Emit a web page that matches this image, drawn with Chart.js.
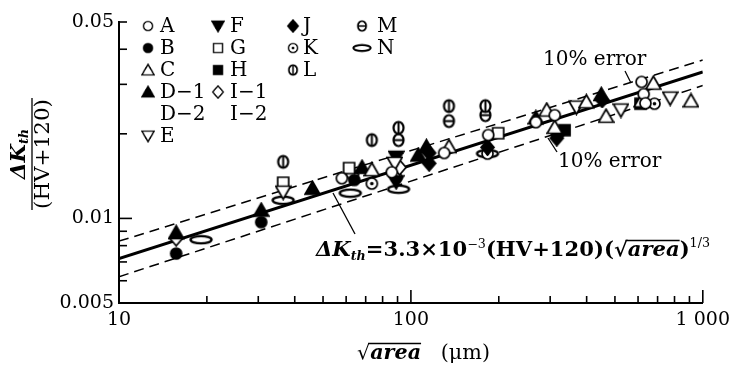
<!DOCTYPE html>
<html>
<head>
<meta charset="utf-8">
<script src="https://cdn.jsdelivr.net/npm/chart.js@4/dist/chart.umd.min.js"></script>
<style>
  html, body { margin: 0; padding: 0; background: #fff; }
</style>
</head>
<body>
<canvas id="chart" width="736" height="365"></canvas>
<script>
// values: [sqrt(area) in um, dKth/(HV+120)]
const ptsA = [[58, 0.0139], [86, 0.0146], [130, 0.0171], [184, 0.0198], [268, 0.0220], [311, 0.0233], [617, 0.0306], [627, 0.0277], [636, 0.0257]];
const ptsB = [[15.7, 0.0075], [30.7, 0.0097], [64, 0.0137]];
const ptsC = [[73.5, 0.0149], [135, 0.0180], [292, 0.0243], [311, 0.0211], [399, 0.0260], [466, 0.0231], [617, 0.0262], [677, 0.0303], [911, 0.0262]];
const ptsD1 = [[15.7, 0.0089], [30.7, 0.0107], [46, 0.0128], [68, 0.0152], [106, 0.0168], [113, 0.0180], [268, 0.0228], [449, 0.0276]];
const ptsD2 = [];
const ptsE = [[36.5, 0.0124], [88, 0.0157], [369, 0.0249], [524, 0.0243], [773, 0.0268]];
const ptsF = [[89, 0.0165], [89, 0.0135]];
const ptsG = [[36.5, 0.0134], [61.4, 0.0151], [199, 0.0201]];
const ptsH = [[336, 0.0206], [612, 0.0256]];
const ptsI1 = [[15.7, 0.0085], [62.9, 0.0143], [91.4, 0.0152]];
const ptsI2 = [];
const ptsJ = [[115.5, 0.0171], [115.5, 0.0157], [183, 0.0179], [318, 0.0198], [316, 0.0193], [452, 0.0264]];
const ptsK = [[73.5, 0.0133], [89, 0.0140], [183, 0.0170], [683, 0.0256]];
const ptsL = [[36.5, 0.0159], [73.5, 0.0190], [90.7, 0.0210], [135, 0.0251], [180, 0.0251]];
const ptsM = [[90.7, 0.0190], [135, 0.0222], [180, 0.0233]];
const ptsN = [[19.1, 0.0084], [36.5, 0.0116], [62, 0.0123], [90.7, 0.0127], [183, 0.0170]];

// fitted line and the two 10% error lines
const lineX = [10, 1000];
const fitY = [0.0072, 0.0332];
const upperY = [0.0083, 0.0366];
const lowerY = [0.0062, 0.0297];

// axis ticks
const xTicks = [10, 100, 1000];
const yTicks = [0.005, 0.01, 0.05];
const xMinor = [20, 30, 40, 50, 60, 70, 80, 90, 200, 300, 400, 500, 600, 700, 800, 900];
const yMinor = [0.006, 0.007, 0.008, 0.009, 0.02, 0.03, 0.04, 0.05];

const seriesNames = ['A', 'B', 'C', 'D−1', 'D−2', 'E', 'F', 'G', 'H', 'I−1', 'I−2', 'J', 'K', 'L', 'M', 'N'];
const seriesPts = [ptsA, ptsB, ptsC, ptsD1, ptsD2, ptsE, ptsF, ptsG, ptsH, ptsI1, ptsI2, ptsJ, ptsK, ptsL, ptsM, ptsN];
const seriesMark = ['circle', 'circleF', 'tri', 'triF', null, 'triDown', 'triDownF', 'square', 'squareF', 'diamond', null, 'diamondF', 'circleDot', 'circleV', 'circleH', 'ellipse'];
// legend slots: [column, row]
const legendSlot = [[0, 0], [0, 1], [0, 2], [0, 3], [0, 4], [0, 5], [1, 0], [1, 1], [1, 2], [1, 3], [1, 4], [2, 0], [2, 1], [2, 2], [3, 0], [3, 1]];

const FONT = "'DejaVu Serif'";

// small canvases used as point styles
function makeMarker(kind) {
  const c = document.createElement('canvas');
  const wide = kind === 'ellipse';
  c.width = wide ? 26 : 17;
  c.height = wide ? 11 : 17;
  const g = c.getContext('2d');
  const cx = c.width / 2, cy = c.height / 2;
  g.strokeStyle = '#000';
  g.lineWidth = 1.7;
  const filled = kind.endsWith('F');
  g.fillStyle = filled ? '#000' : '#fff';
  g.beginPath();
  switch (kind) {
    case 'circle': case 'circleF': case 'circleDot':
      g.arc(cx, cy, 5.5, 0, Math.PI * 2); break;
    case 'circleV': case 'circleH':
      g.lineWidth = 2.2;
      g.ellipse(cx, cy, 5, 6, 0, 0, Math.PI * 2); break;
    case 'tri': case 'triF':
      g.moveTo(cx, cy - 7); g.lineTo(cx + 7.5, cy + 6); g.lineTo(cx - 7.5, cy + 6); g.closePath(); break;
    case 'triDown': case 'triDownF':
      g.moveTo(cx, cy + 7); g.lineTo(cx + 7.5, cy - 6); g.lineTo(cx - 7.5, cy - 6); g.closePath(); break;
    case 'square': case 'squareF':
      g.rect(cx - 5.5, cy - 5.5, 11, 11); break;
    case 'diamond': case 'diamondF':
      g.moveTo(cx, cy - 7.5); g.lineTo(cx + 6.5, cy); g.lineTo(cx, cy + 7.5); g.lineTo(cx - 6.5, cy); g.closePath(); break;
    case 'ellipse':
      g.lineWidth = 2.4;
      g.ellipse(cx, cy, 10.5, 3.6, 0, 0, Math.PI * 2); break;
  }
  g.fill();
  g.stroke();
  if (kind === 'circleDot') {
    g.beginPath(); g.fillStyle = '#000'; g.arc(cx, cy, 1.8, 0, Math.PI * 2); g.fill();
  }
  if (kind === 'circleV') {
    g.beginPath(); g.lineWidth = 2; g.moveTo(cx, cy - 6); g.lineTo(cx, cy + 6); g.stroke();
  }
  if (kind === 'circleH') {
    g.beginPath(); g.lineWidth = 2; g.moveTo(cx - 5, cy); g.lineTo(cx + 5, cy); g.stroke();
  }
  return c;
}

const markerImg = {};
seriesMark.forEach(k => { if (k && !markerImg[k]) markerImg[k] = makeMarker(k); });

function toXY(xs, ys) { return xs.map((x, i) => ({ x: x, y: ys[i] })); }

const datasets = [];
seriesNames.forEach((name, i) => {
  if (!seriesPts[i].length) return;
  datasets.push({
    type: 'scatter',
    label: name,
    data: seriesPts[i].map(p => ({ x: p[0], y: p[1] })),
    pointStyle: markerImg[seriesMark[i]],
    pointRadius: 6,
    pointHoverRadius: 6,
    order: 0
  });
});
datasets.push({ type: 'line', label: 'fit', data: toXY(lineX, fitY), borderColor: '#000', borderWidth: 3, pointRadius: 0, order: 5 });
datasets.push({ type: 'line', label: 'upper', data: toXY(lineX, upperY), borderColor: '#000', borderWidth: 1.5, borderDash: [10, 6], pointRadius: 0, order: 5 });
datasets.push({ type: 'line', label: 'lower', data: toXY(lineX, lowerY), borderColor: '#000', borderWidth: 1.5, borderDash: [10, 6], pointRadius: 0, order: 5 });

// draw a row of text runs: [text, font, dy, overline]
function drawRuns(ctx, runs, x, y, targetW) {
  let w = 0;
  const widths = runs.map(r => { ctx.font = r[1]; const m = ctx.measureText(r[0]).width; w += m; return m; });
  const sx = targetW ? targetW / w : 1;
  ctx.save();
  ctx.translate(x, y);
  ctx.scale(sx, 1);
  let cx = 0;
  runs.forEach((r, i) => {
    ctx.font = r[1];
    ctx.fillText(r[0], cx, r[2] || 0);
    if (r[3]) {
      ctx.lineWidth = 1.3;
      ctx.beginPath();
      ctx.moveTo(cx - 2, -15.5);
      ctx.lineTo(cx + widths[i], -15.5);
      ctx.stroke();
    }
    cx += widths[i];
  });
  ctx.restore();
}

function line(ctx, x1, y1, x2, y2) {
  ctx.beginPath(); ctx.moveTo(x1, y1); ctx.lineTo(x2, y2); ctx.stroke();
}

const decorations = {
  id: 'decorations',
  afterDraw(chart) {
    const { ctx, chartArea: a, scales: { x, y } } = chart;
    ctx.save();
    ctx.strokeStyle = '#000';
    ctx.fillStyle = '#000';
    ctx.textBaseline = 'alphabetic';

    // inward tick marks
    ctx.lineWidth = 1.6;
    xMinor.forEach(v => { const p = x.getPixelForValue(v); line(ctx, p, a.bottom, p, a.bottom - 7); });
    [100, 1000].forEach(v => { const p = x.getPixelForValue(v); line(ctx, p, a.bottom, p, a.bottom - 13); });
    yMinor.forEach(v => { const p = y.getPixelForValue(v); line(ctx, a.left, p, a.left + 8, p); });
    const p01 = y.getPixelForValue(0.01);
    line(ctx, a.left, p01, a.left + 13, p01);

    // legend
    seriesNames.forEach((name, i) => {
      const slot = legendSlot[i];
      const mx = [148, 218, 293, 362][slot[0]];
      const tx = [160, 230, 303, 377][slot[0]];
      const ty = [26, 48, 70, 92, 114, 136][slot[1]];
      const img = markerImg[seriesMark[i]];
      if (img) {
        const s = 0.82;
        ctx.drawImage(img, mx - img.width * s / 2, ty - img.height * s / 2, img.width * s, img.height * s);
      }
      ctx.font = '20px ' + FONT;
      ctx.textBaseline = 'middle';
      ctx.fillText(name, tx, ty + 1);
    });
    ctx.textBaseline = 'alphabetic';

    // 10% error labels with leaders
    ctx.font = '20px ' + FONT;
    ctx.fillText('10% error', 543, 65);
    ctx.fillText('10% error', 558, 167);
    ctx.lineWidth = 1.3;
    line(ctx, 625, 71, 631, 83);
    line(ctx, 548, 138, 557, 152);

    // formula and its leader
    line(ctx, 333, 193, 355, 234);
    drawRuns(ctx, [
      ['Δ', 'italic bold 20px ' + FONT],
      ['K', 'italic bold 20px ' + FONT],
      ['th', 'italic bold 12px ' + FONT, 4],
      ['=3.3×10', 'bold 20px ' + FONT],
      ['−3', '12px ' + FONT, -8],
      ['(HV+120)(√', 'bold 20px ' + FONT],
      ['area', 'italic bold 20px ' + FONT, 0, true],
      [')', 'bold 20px ' + FONT],
      ['1/3', '12px ' + FONT, -9]
    ], 316, 256, 394);

    // x axis title
    drawRuns(ctx, [
      ['√', '20px ' + FONT],
      ['area', 'italic bold 20px ' + FONT, 0, true],
      ['   (μm)', '20px ' + FONT]
    ], 357, 359, 133);

    // y axis title, a rotated fraction
    ctx.translate(32, 154);
    ctx.rotate(-Math.PI / 2);
    ctx.textBaseline = 'middle';
    ctx.lineWidth = 1.3;
    line(ctx, -56, 0, 56, 0);
    drawRuns(ctx, [
      ['Δ', 'italic bold 20px ' + FONT],
      ['K', 'italic bold 20px ' + FONT],
      ['th', 'italic bold 12px ' + FONT, 5]
    ], -25, -12, 50);
    drawRuns(ctx, [['(HV+120)', '20px ' + FONT]], -55, 12, 110);
    ctx.restore();
  }
};

new Chart(document.getElementById('chart'), {
  type: 'scatter',
  data: { datasets: datasets },
  options: {
    responsive: false,
    animation: false,
    layout: { padding: { top: 22, right: 27, bottom: 0, left: 0 } },
    plugins: { legend: { display: false }, tooltip: { enabled: false } },
    scales: {
      x: {
        type: 'logarithmic',
        position: 'bottom',
        min: 10,
        max: 1000,
        grid: { display: false, drawTicks: false },
        border: { display: true, color: '#000', width: 2 },
        afterBuildTicks: s => { s.ticks = xTicks.map(v => ({ value: v })); },
        afterFit: s => { s.height = 62; },
        ticks: {
          color: '#000',
          font: { family: FONT, size: 19 },
          padding: 6,
          maxRotation: 0,
          autoSkip: false,
          callback: v => v === 1000 ? '1 000' : String(v)
        }
      },
      y: {
        type: 'logarithmic',
        min: 0.005,
        max: 0.05,
        grid: { display: false, drawTicks: false },
        border: { display: true, color: '#000', width: 2 },
        afterBuildTicks: s => { s.ticks = yTicks.map(v => ({ value: v })); },
        afterFit: s => { s.width = 119; },
        ticks: {
          color: '#000',
          font: { family: FONT, size: 19 },
          padding: 5,
          autoSkip: false,
          callback: v => String(v)
        }
      }
    }
  },
  plugins: [decorations]
});
</script>
</body>
</html>
